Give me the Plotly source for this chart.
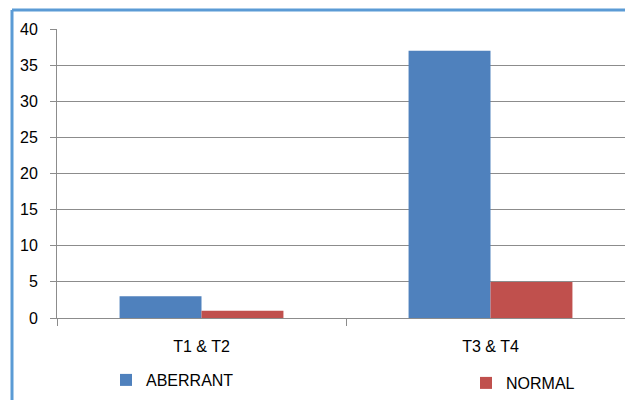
import plotly.graph_objects as go

# Stage groups and counts per margin status
categories = ["T1 & T2", "T3 & T4"]
aberrant = [3, 37]
normal = [1, 5]
y_ticks = [0, 5, 10, 15, 20, 25, 30, 35, 40]

BLUE = "#4F81BD"
RED = "#C0504D"
GRID = "#8C8C8C"
FONT = "Liberation Sans"

W, H = 625, 400
ML, MR, MT, MB = 57, 0, 29, 82
pw, ph = W - ML - MR, H - MT - MB

fig = go.Figure()
fig.add_trace(go.Bar(name="ABERRANT", x=categories, y=aberrant, showlegend=True,
                     marker=dict(color=BLUE, line=dict(width=0)), legend="legend"))
fig.add_trace(go.Bar(name="NORMAL", x=categories, y=normal, showlegend=True,
                     marker=dict(color=RED, line=dict(width=0)), legend="legend2"))

cat_px = 289.0
x_hi = -0.5 + pw / cat_px


def px(x):
    return (x - ML) / pw


def py(y):
    return (H - MB - y) / ph


fig.update_layout(
    width=W, height=H,
    margin=dict(l=ML, r=MR, t=MT, b=MB),
    paper_bgcolor="white", plot_bgcolor="white",
    showlegend=True,
    barmode="group", bargap=0.433, bargroupgap=0,
    font=dict(family=FONT, size=16, color="#000000"),
    xaxis=dict(range=[-0.5, x_hi], showgrid=False, showline=True,
               linecolor=GRID, linewidth=1, ticks="outside", tickson="boundaries",
               ticklen=7, tickcolor=GRID, tickfont=dict(size=16),
               ticklabelstandoff=14, fixedrange=True),
    yaxis=dict(range=[0, 40], tickvals=y_ticks, showgrid=True, gridcolor=GRID,
               gridwidth=1, showline=True, linecolor=GRID, linewidth=1,
               ticks="outside", ticklen=6, tickcolor=GRID, zeroline=False,
               tickfont=dict(size=16), ticklabelstandoff=9),
    legend=dict(x=px(106), y=py(380), xanchor="left", yanchor="middle",
                orientation="h", font=dict(size=16), bgcolor="rgba(0,0,0,0)",
                itemwidth=30),
    legend2=dict(x=px(466), y=py(383), xanchor="left", yanchor="middle",
                 orientation="h", font=dict(size=16), bgcolor="rgba(0,0,0,0)",
                 itemwidth=30),
    shapes=[
        dict(type="line", xref="paper", yref="paper",
             x0=px(12), x1=px(640), y0=py(10), y1=py(10),
             line=dict(color="#5B9BD5", width=3)),
        dict(type="line", xref="paper", yref="paper",
             x0=px(12), x1=px(12), y0=py(10), y1=py(410),
             line=dict(color="#5B9BD5", width=3)),
    ],
)

fig.write_html("out.html")
